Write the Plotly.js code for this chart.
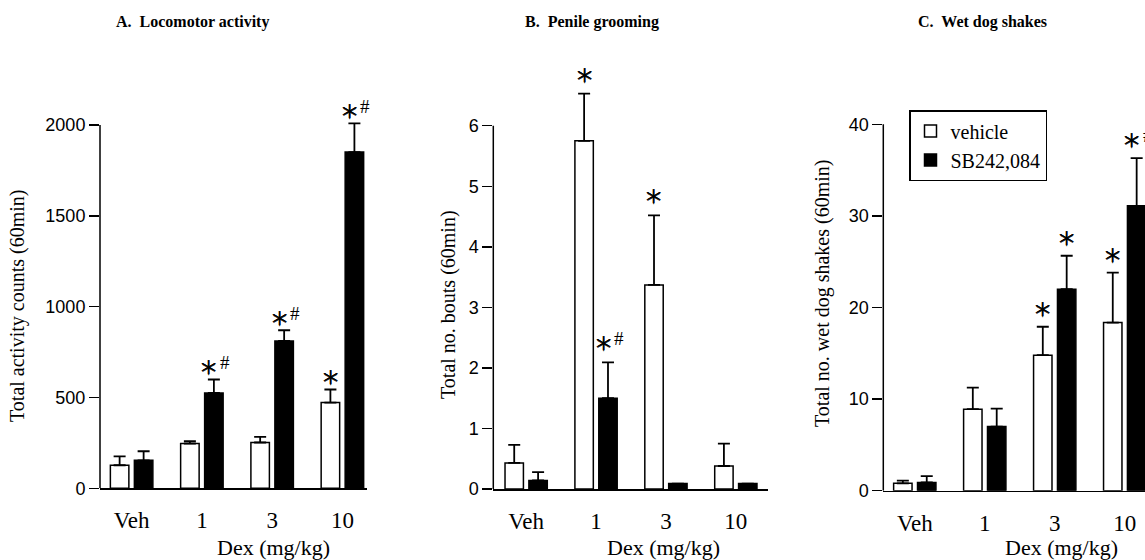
<!DOCTYPE html>
<html><head><meta charset="utf-8">
<script src="https://cdn.plot.ly/plotly-3.0.1.min.js"></script>
<style>html,body{margin:0;padding:0;background:#fff}#chart{width:1145px;height:560px}</style>
</head><body><div id="chart"></div>
<script>
// ---------- data ----------
const doses = ['Veh', '1', '3', '10'];
const seriesNames = ['vehicle', 'SB242,084'];

// A. Locomotor activity
const locoVehicle    = [127, 246, 252, 472];
const locoVehicleSem = [49, 13, 31, 72];
const locoSB         = [154, 525, 811, 1851];
const locoSBSem      = [50, 74, 59, 158];
const locoVehicleSig = ['', '', '', '*'];
const locoSBSig      = ['', '*#', '*#', '*#'];
const locoTicks      = [0, 500, 1000, 1500, 2000];

// B. Penile grooming
const penVehicle    = [0.43, 5.75, 3.37, 0.38];
const penVehicleSem = [0.30, 0.78, 1.15, 0.37];
const penSB         = [0.14, 1.50, 0.09, 0.09];
const penSBSem      = [0.14, 0.59, 0, 0];
const penVehicleSig = ['', '*', '*', ''];
const penSBSig      = ['', '*#', '', ''];
const penTicks      = [0, 1, 2, 3, 4, 5, 6];

// C. Wet dog shakes
const wdsVehicle    = [0.8, 8.9, 14.8, 18.35];
const wdsVehicleSem = [0.3, 2.35, 3.1, 5.45];
const wdsSB         = [0.9, 7.0, 22.0, 31.1];
const wdsSBSem      = [0.7, 1.95, 3.65, 5.2];
const wdsVehicleSig = ['', '', '*', '*'];
const wdsSBSig      = ['', '', '*', '*#'];
const wdsTicks      = [0, 10, 20, 30, 40];

const panelTitles = ['A.  Locomotor activity', 'B.  Penile grooming', 'C.  Wet dog shakes'];
const yTitles = ['Total activity counts (60min)', 'Total no. bouts (60min)', 'Total no. wet dog shakes (60min)'];
const xTitle = 'Dex (mg/kg)';

// ---------- layout helpers ----------
const W = 1145, H = 560;
const fx = px => px / W;
const fy = px => 1 - px / H;
const SERIF = 'Liberation Serif, Times New Roman, serif';
const SANS = 'Liberation Sans, Arial, sans-serif';

const panels = [
  {veh: locoVehicle, vehE: locoVehicleSem, sb: locoSB, sbE: locoSBSem, vSig: locoVehicleSig, sSig: locoSBSig,
   ticks: locoTicks, xDom: [100, 367], xRange: [-0.45, 3.35], zeroPx: 488.3, topTickPx: 125, domTopPx: 40,
   yTitleX: 18, yTitleY: 306, xTitleX: 273, titleX: 192, gap: 13},
  {veh: penVehicle, vehE: penVehicleSem, sb: penSB, sbE: penSBSem, vSig: penVehicleSig, sSig: penSBSig,
   ticks: penTicks, xDom: [493.3, 768], xRange: [-0.47, 3.46], zeroPx: 489, topTickPx: 125.7, domTopPx: 40,
   yTitleX: 448, yTitleY: 305, xTitleX: 663, titleX: 592, gap: 20},
  {veh: wdsVehicle, vehE: wdsVehicleSem, sb: wdsSB, sbE: wdsSBSem, vSig: wdsVehicleSig, sSig: wdsSBSig,
   ticks: wdsTicks, xDom: [883.3, 1145], xRange: [-0.45, 3.29], zeroPx: 490.7, topTickPx: 124.3, domTopPx: 40,
   yTitleX: 822, yTitleY: 294, xTitleX: 1061, titleX: 982, gap: 19}
];

const traces = [];
const layout = {
  width: W, height: H,
  margin: {l: 0, r: 0, t: 0, b: 0},
  paper_bgcolor: 'white', plot_bgcolor: 'white',
  barmode: 'group', bargap: 0.317, bargroupgap: 0.229,
  showlegend: true,
  legend: {x: fx(909), y: fy(110), xanchor: 'left', yanchor: 'top', bordercolor: 'black', borderwidth: 1.5,
           bgcolor: 'white', font: {family: SERIF, size: 20, color: 'black'}, tracegroupgap: 0},
  shapes: [], annotations: []
};

const starFont = {family: 'DejaVu Sans ExtraLight, DejaVu Sans', size: 31, weight: 200, color: 'black',
                  shadow: '0.5px 0 0 #000, -0.5px 0 0 #000, 0 0.5px 0 #000, 0 -0.5px 0 #000'};

panels.forEach((p, i) => {
  const xn = i === 0 ? 'x' : 'x' + (i + 1);
  const yn = i === 0 ? 'y' : 'y' + (i + 1);
  const topVal = p.ticks[p.ticks.length - 1];
  const ppu = (p.zeroPx - p.topTickPx) / topVal;
  const rangeMax = (p.zeroPx - p.domTopPx) / ppu;

  layout['xaxis' + (i === 0 ? '' : i + 1)] = {
    domain: [fx(p.xDom[0]), fx(p.xDom[1])], range: p.xRange, type: 'category', anchor: yn,
    showline: true, linecolor: 'black', linewidth: 1.5, showgrid: false, zeroline: false,
    ticks: 'outside', ticklen: 11, tickcolor: 'rgba(0,0,0,0)',
    tickfont: {family: SERIF, size: 23, color: 'black'}, fixedrange: true
  };
  layout['yaxis' + (i === 0 ? '' : i + 1)] = {
    domain: [fy(p.zeroPx), fy(p.domTopPx)], range: [0, rangeMax], anchor: xn,
    tickvals: p.ticks, ticks: 'outside', ticklen: 10, tickwidth: 1.5, tickcolor: 'black',
    showline: false, showgrid: false, zeroline: false,
    tickfont: {family: SANS, size: 18, color: 'black'}, fixedrange: true
  };

  const zeros = p.veh.map(() => 0);
  traces.push({
    type: 'bar', x: doses, y: p.veh, xaxis: xn, yaxis: yn, name: seriesNames[0],
    legendgroup: 'veh', showlegend: i === 0,
    marker: {color: 'white', line: {color: 'black', width: 1.5}},
    error_y: {type: 'data', symmetric: false, array: p.vehE, arrayminus: zeros, color: 'black', thickness: 1.8, width: 6},
    hoverinfo: 'skip'
  });
  traces.push({
    type: 'bar', x: doses, y: p.sb, xaxis: xn, yaxis: yn, name: seriesNames[1],
    legendgroup: 'sb', showlegend: i === 0,
    marker: {color: 'black', line: {color: 'black', width: 1.5}},
    error_y: {type: 'data', symmetric: false, array: p.sbE, arrayminus: zeros, color: 'black', thickness: 1.8, width: 6},
    hoverinfo: 'skip'
  });

  // y axis line (0 .. top tick only)
  layout.shapes.push({type: 'line', xref: xn + ' domain', yref: yn, x0: 0, x1: 0, y0: 0, y1: topVal,
                      line: {color: 'black', width: 1.5}, layer: 'above'});

  // titles
  layout.annotations.push({text: panelTitles[i], xref: 'paper', yref: 'paper', x: fx(p.titleX), y: fy(22),
    xanchor: 'center', yanchor: 'middle', showarrow: false,
    font: {family: SERIF, size: 16, color: 'black', weight: 'bold'}});
  layout.annotations.push({text: yTitles[i], xref: 'paper', yref: 'paper', x: fx(p.yTitleX), y: fy(p.yTitleY),
    xanchor: 'center', yanchor: 'middle', textangle: -90, showarrow: false,
    font: {family: SERIF, size: 20, color: 'black'}});
  layout.annotations.push({text: xTitle, xref: 'paper', yref: 'paper', x: fx(p.xTitleX), y: fy(547),
    xanchor: 'center', yanchor: 'middle', showarrow: false,
    font: {family: SERIF, size: 22, color: 'black'}});

  // significance marks (x given as category index)
  const addSig = (vals, errs, sigs, off) => {
    sigs.forEach((s, j) => {
      if (!s) return;
      const top = vals[j] + errs[j];
      const hasHash = s.indexOf('#') >= 0;
      layout.annotations.push({text: '∗', xref: xn, yref: yn, x: j, y: top,
        xshift: off + (hasHash ? -5 : 0), yshift: p.gap, xanchor: 'center', yanchor: 'middle',
        showarrow: false, font: starFont});
      if (hasHash) {
        layout.annotations.push({text: '#', xref: xn, yref: yn, x: j, y: top,
          xshift: off + 11, yshift: p.gap + 4, xanchor: 'center', yanchor: 'middle',
          showarrow: false, font: {family: SERIF, size: 19, color: 'black'}});
      }
    });
  };
  addSig(p.veh, p.vehE, p.vSig, -12);
  addSig(p.sb, p.sbE, p.sSig, 12);
});

Plotly.newPlot('chart', traces, layout, {staticPlot: true, displayModeBar: false});
</script>
</body></html>
